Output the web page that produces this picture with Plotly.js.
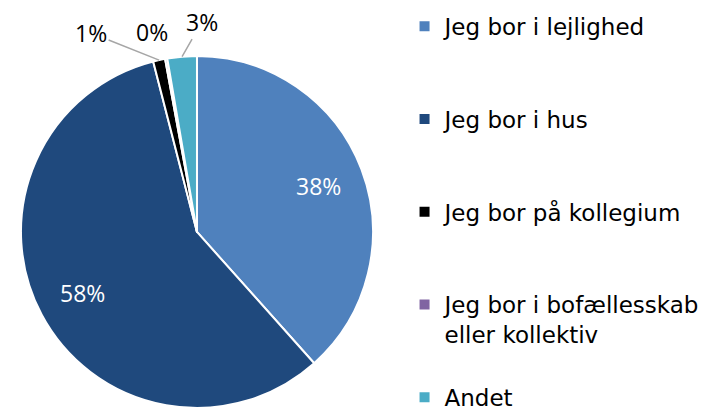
<!DOCTYPE html>
<html>
<head>
<meta charset="utf-8">
<script src="https://cdn.plot.ly/plotly-3.0.1.min.js"></script>
<style>html,body{margin:0;padding:0;background:#fff;}#chart{width:716px;height:408px;}</style>
</head>
<body>
<div id="chart"></div>
<script>
const categories = ["Jeg bor i lejlighed", "Jeg bor i hus", "Jeg bor på kollegium", "Jeg bor i bofællesskab<br>eller kollektiv", "Andet"];
const values = [38.4, 57.6, 1.1, 0.2, 2.7];
const colors = ["#4F81BD", "#1F497D", "#000000", "#8064A2", "#4BACC6"];
// label placement per slice: inside (fraction of radius along mid-angle) or outside (px offset)
const labelInside = [true, true, false, false, false];
const labelColors = ["#ffffff", "#ffffff", "#000000", "#000000", "#000000"];
const labelOffsets = [null, null, [-68, -27], [-14, -27], [20, -35]];
const labelArrows = [false, false, true, false, true];
const insideRadius = 0.74;

const W = 716, H = 408;
const dom = {x: [0.0293, 0.5209], y: [0, 0.863]};

// pad legend labels so entries are spaced like the reference
const legendLabels = categories.map((c, i) => {
  if (i === categories.length - 1) return c;
  const lines = c.split("<br>").length;
  let s = c;
  for (let k = lines; k < 3; k++) s += "<br> ";
  return s;
});

const trace = {
  type: "pie",
  labels: legendLabels,
  values: values,
  sort: false,
  direction: "clockwise",
  rotation: 0,
  marker: {colors: colors, line: {color: "#ffffff", width: 2}},
  textinfo: "none",
  automargin: false,
  domain: dom,
  hoverinfo: "none"
};

// percentage labels, anchored at each slice's mid-angle
const total = values.reduce((a, b) => a + b, 0);
const cx = (dom.x[0] + dom.x[1]) / 2 * W;
const cy = (1 - (dom.y[0] + dom.y[1]) / 2) * H;
const r = Math.min((dom.x[1] - dom.x[0]) * W, (dom.y[1] - dom.y[0]) * H) / 2;
const annotations = [];
let cum = 0;
values.forEach((v, i) => {
  const mid = (cum + v / 2) / total;
  cum += v;
  const th = mid * 2 * Math.PI;
  const rr = labelInside[i] ? r * insideRadius : r;
  const px = cx + rr * Math.sin(th);
  const py = cy - rr * Math.cos(th);
  const pct = Math.round(v / total * 100) + "%";
  const a = {
    xref: "paper", yref: "paper", x: px / W, y: 1 - py / H,
    xanchor: "center", yanchor: "middle",
    text: pct, font: {family: "Open Sans", size: 23, color: labelColors[i]},
    showarrow: labelArrows[i]
  };
  if (labelArrows[i]) {
    Object.assign(a, {ax: labelOffsets[i][0], ay: labelOffsets[i][1], arrowhead: 0, arrowwidth: 1.5, arrowcolor: "#A6A6A6", standoff: 0});
  } else if (labelOffsets[i]) {
    Object.assign(a, {xshift: labelOffsets[i][0], yshift: -labelOffsets[i][1]});
  }
  annotations.push(a);
});

const layout = {
  width: W, height: H,
  margin: {l: 0, r: 0, t: 0, b: 0, autoexpand: false},
  paper_bgcolor: "#ffffff",
  showlegend: true,
  annotations: annotations,
  legend: {
    x: 0.565, y: 0.988, xanchor: "left", yanchor: "top",
    font: {family: "DejaVu Sans", size: 23, color: "#000000"},
    valign: "top", itemgap: 0, tracegroupgap: 0
  }
};

Plotly.newPlot("chart", [trace], layout, {displayModeBar: false, staticPlot: true});
</script>
</body>
</html>
